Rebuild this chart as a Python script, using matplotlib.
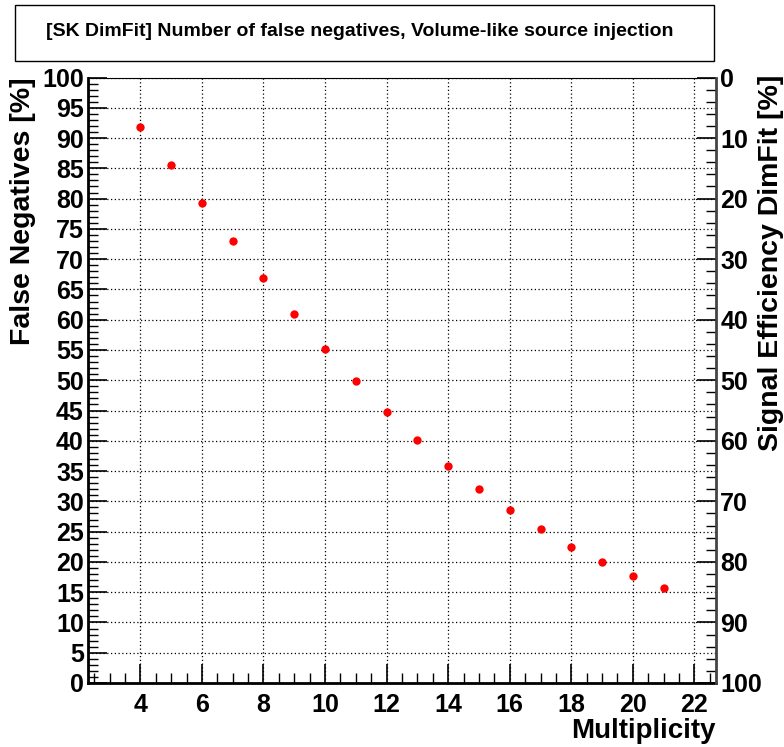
import matplotlib
matplotlib.use("Agg")
import matplotlib.pyplot as plt
from matplotlib.ticker import MultipleLocator
from matplotlib.patches import Rectangle

plt.rcParams['font.family'] = ['Liberation Sans', 'DejaVu Sans']
plt.rcParams['font.weight'] = 'bold'

# Multiplicity threshold and false-negative fraction [%]
multiplicity = [4, 5, 6, 7, 8, 9, 10, 11, 12, 13, 14, 15, 16, 17, 18, 19, 20, 21]
false_neg = [91.9, 85.5, 79.3, 73.0, 66.9, 60.9, 55.1, 49.8, 44.7, 40.1,
             35.9, 32.0, 28.6, 25.4, 22.5, 20.0, 17.7, 15.7]

title = "[SK DimFit] Number of false negatives, Volume-like source injection"
xlabel = "Multiplicity"
ylabel_left = "False Negatives [%]"
ylabel_right = "Signal Efficiency DimFit [%]"

W, H = 784, 747
fig = plt.figure(figsize=(W / 100, H / 100), dpi=100)

def px(x0, y0, x1, y1):
    return [x0 / W, 1 - y1 / H, (x1 - x0) / W, (y1 - y0) / H]

ax = fig.add_axes(px(88, 77.5, 716, 683))
ax.plot(multiplicity, false_neg, 'o', color='red', markersize=6, markeredgewidth=0, zorder=5)
ax.set_xlim(2.3, 22.7)
ax.set_ylim(0, 100)

ax.xaxis.set_major_locator(MultipleLocator(2))
ax.xaxis.set_minor_locator(MultipleLocator(0.5))
ax.yaxis.set_major_locator(MultipleLocator(5))
ax.yaxis.set_minor_locator(MultipleLocator(1))
ax.set_xticks([4, 6, 8, 10, 12, 14, 16, 18, 20, 22])

ax.grid(True, which='major', linestyle=(0, (1, 2)), color='black', linewidth=0.9)
ax.tick_params(axis='both', which='major', direction='in', length=14, width=1.2,
               labelsize=18, colors='black')
ax.tick_params(axis='both', which='minor', direction='in', length=7, width=1.0)
ax.tick_params(axis='x', which='both', top=False, pad=7)
ax.tick_params(axis='y', which='both', right=False, pad=3)
for lab in ax.get_xticklabels() + ax.get_yticklabels():
    lab.set_fontweight('bold')

for side in ('left', 'bottom'):
    ax.spines[side].set_linewidth(2)
ax.spines['top'].set_linewidth(0.8)
ax.spines['right'].set_visible(False)

ax.set_xlabel(xlabel, fontsize=20, fontweight='bold', loc='right', labelpad=1)

# Efficiency axis: 100 - false negatives
ax2 = ax.twinx()
ax2.set_ylim(100, 0)
ax2.yaxis.set_major_locator(MultipleLocator(10))
ax2.yaxis.set_minor_locator(MultipleLocator(2))
ax2.tick_params(axis='y', which='major', direction='in', length=14, width=1.2,
                labelsize=18, pad=3)
ax2.tick_params(axis='y', which='minor', direction='in', length=7, width=1.0)
for lab in ax2.get_yticklabels():
    lab.set_fontweight('bold')
ax2.spines['right'].set_linewidth(2)
ax2.spines['right'].set_color('#444444')
for side in ('left', 'top', 'bottom'):
    ax2.spines[side].set_visible(False)

# Axis titles, top-aligned with the frame
fig.text(23 / W, 1 - 77 / H, ylabel_left, rotation=90, ha='center', va='top',
         fontsize=20.5, fontweight='bold')
fig.text(771 / W, 1 - 75 / H, ylabel_right, rotation=90, ha='center', va='top',
         fontsize=20.5, fontweight='bold')

# Title box
fig.patches.append(Rectangle((15 / W, 1 - 61 / H), (714 - 15) / W, (61 - 5) / H,
                             transform=fig.transFigure, facecolor='white',
                             edgecolor='black', linewidth=1.0))
fig.text(360 / W, 1 - 32 / H, title, ha='center', va='center',
         fontsize=14, fontweight='bold')

fig.savefig("out.png", dpi=100)
